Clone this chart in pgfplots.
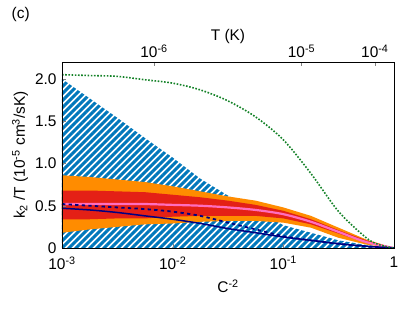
\documentclass[border=0pt]{standalone}
\usepackage{fontspec}
\setmainfont{Liberation Sans}
\usepackage{pgfplots}
\pgfplotsset{compat=1.18}
\usetikzlibrary{patterns.meta}
\definecolor{hatchblue}{RGB}{0,119,187}
\definecolor{bandorange}{RGB}{255,140,0}
\definecolor{bandred}{RGB}{228,32,22}
\definecolor{pinkline}{RGB}{255,110,190}
\definecolor{navyline}{RGB}{0,0,130}
\definecolor{greenline}{RGB}{20,130,40}
\begin{document}
\begin{tikzpicture}[font=\fontsize{15.5}{18}\selectfont]
\path[use as bounding box] (-62bp,-62bp) rectangle (353bp,248bp);
\begin{axis}[
  at={(0,0)}, anchor=south west,
  scale only axis, width=332bp, height=186bp,
  xmode=log, xmin=1e-3, xmax=1, ymin=0, ymax=2.2,
  xtick={1e-3,1e-2,1e-1,1},
  xticklabels={10\textsuperscript{-3},10\textsuperscript{-2},10\textsuperscript{-1},1},
  ytick={0,0.5,1,1.5,2},
  yticklabels={0,0.5,1.0,1.5,2.0},
  xminorticks=false, yminorticks=false,
  xtick pos=bottom, ytick pos=left,
  tick align=inside, major tick length=4bp,
  axis line style={line width=0.8bp},
  xticklabel style={yshift=-5bp},
  yticklabel style={xshift=-2bp},
  xlabel={C\textsuperscript{-2}},
  xlabel style={at={(axis description cs:0.5,0)}, anchor=center, yshift=-38bp},
  ylabel={k\textsubscript{2} /T (10\textsuperscript{-5} cm\textsuperscript{3}/sK)},
  ylabel style={at={(axis description cs:-0.1265,0.5)}, anchor=center},
  axis on top,
]
% hatched allowed region
\addplot[draw=none, pattern={Lines[angle=45,distance=4.95bp,line width=3.0bp]}, pattern color=hatchblue] coordinates {
(0.001,2.0) (0.001778,1.77) (0.003162,1.54) (0.005623,1.30) (0.01,1.07) (0.01778,0.82) (0.03162,0.62) (0.05623,0.45) (0.1,0.27) (0.1778,0.18) (0.3162,0.09) (0.5623,0.035) (1,0)
(1,0) (0.001,0)} -- cycle;
% orange band
\addplot[draw=none, fill=bandorange] coordinates {
(0.001,0.86) (0.001778,0.84) (0.003162,0.81) (0.005623,0.78) (0.01,0.73) (0.01778,0.67) (0.03162,0.61) (0.05623,0.56) (0.1,0.48) (0.1778,0.38) (0.3162,0.24) (0.5623,0.10) (1,0)
(0.5623,0.04) (0.3162,0.12) (0.1778,0.24) (0.1,0.30) (0.05623,0.32) (0.03162,0.32) (0.01778,0.31) (0.01,0.29) (0.005623,0.28) (0.003162,0.25) (0.001778,0.22) (0.001,0.18)} -- cycle;
% red band
\addplot[draw=none, fill=bandred] coordinates {
(0.001,0.68) (0.001778,0.68) (0.003162,0.67) (0.005623,0.66) (0.01,0.63) (0.01778,0.60) (0.03162,0.56) (0.05623,0.51) (0.1,0.44) (0.1778,0.34) (0.3162,0.21) (0.5623,0.09) (1,0)
(0.5623,0.06) (0.3162,0.17) (0.1778,0.28) (0.1,0.35) (0.05623,0.38) (0.03162,0.38) (0.01778,0.38) (0.01,0.37) (0.005623,0.35) (0.003162,0.35) (0.001778,0.34) (0.001,0.34)} -- cycle;
% pink central line
\addplot[pinkline, line width=2.2bp, smooth] coordinates {
(0.001,0.52) (0.001778,0.52) (0.003162,0.52) (0.005623,0.52) (0.01,0.51) (0.01778,0.50) (0.03162,0.48) (0.05623,0.45) (0.1,0.40) (0.1778,0.31) (0.3162,0.19) (0.5623,0.07) (1,0)};
% dashed navy
\addplot[navyline, line width=1.8bp, dash pattern=on 3.3bp off 3.3bp, smooth] coordinates {
(0.001,0.52) (0.001778,0.50) (0.003162,0.48) (0.005623,0.46) (0.01,0.43) (0.01778,0.38) (0.03162,0.30) (0.05623,0.22) (0.1,0.14) (0.1778,0.09) (0.3162,0.05) (0.5623,0.02) (1,0)};
% solid navy
\addplot[navyline, line width=1.5bp, smooth] coordinates {
(0.001,0.47) (0.001778,0.45) (0.003162,0.42) (0.005623,0.38) (0.01,0.34) (0.01778,0.29) (0.03162,0.23) (0.05623,0.18) (0.1,0.13) (0.1778,0.09) (0.3162,0.05) (0.5623,0.02) (1,0)};
% green dotted
\addplot[greenline, line width=1.6bp, dash pattern=on 1.6bp off 1.6bp, smooth] coordinates {
(0.001,2.05) (0.001778,2.04) (0.003162,2.03) (0.005623,1.99) (0.01,1.95) (0.01778,1.87) (0.03162,1.74) (0.05623,1.55) (0.1,1.28) (0.1778,0.88) (0.3162,0.43) (0.5623,0.12) (0.75,0.035) (1,0)};
\end{axis}
\begin{axis}[
  at={(0,0)}, anchor=south west,
  scale only axis, width=332bp, height=186bp,
  xmode=log, xmin=1e-3, xmax=1, ymin=0, ymax=2.2,
  axis x line*=top, axis y line=none,
  xtick={0.00678,0.146,0.671},
  xticklabels={10\textsuperscript{-6},10\textsuperscript{-5},10\textsuperscript{-4}},
  xminorticks=false,
  tick align=inside, major tick length=4bp,
  axis line style={line width=0.8bp},
  xticklabel style={yshift=1bp},
  xlabel={T (K)},
  xlabel style={at={(axis description cs:0.5,1)}, anchor=center, yshift=25bp},
]
\addplot[draw=none] coordinates {(0.01,1)};
\end{axis}
\node[anchor=west, inner sep=0pt] at (-50.5bp,233bp) {(c)};
\end{tikzpicture}
\end{document}
